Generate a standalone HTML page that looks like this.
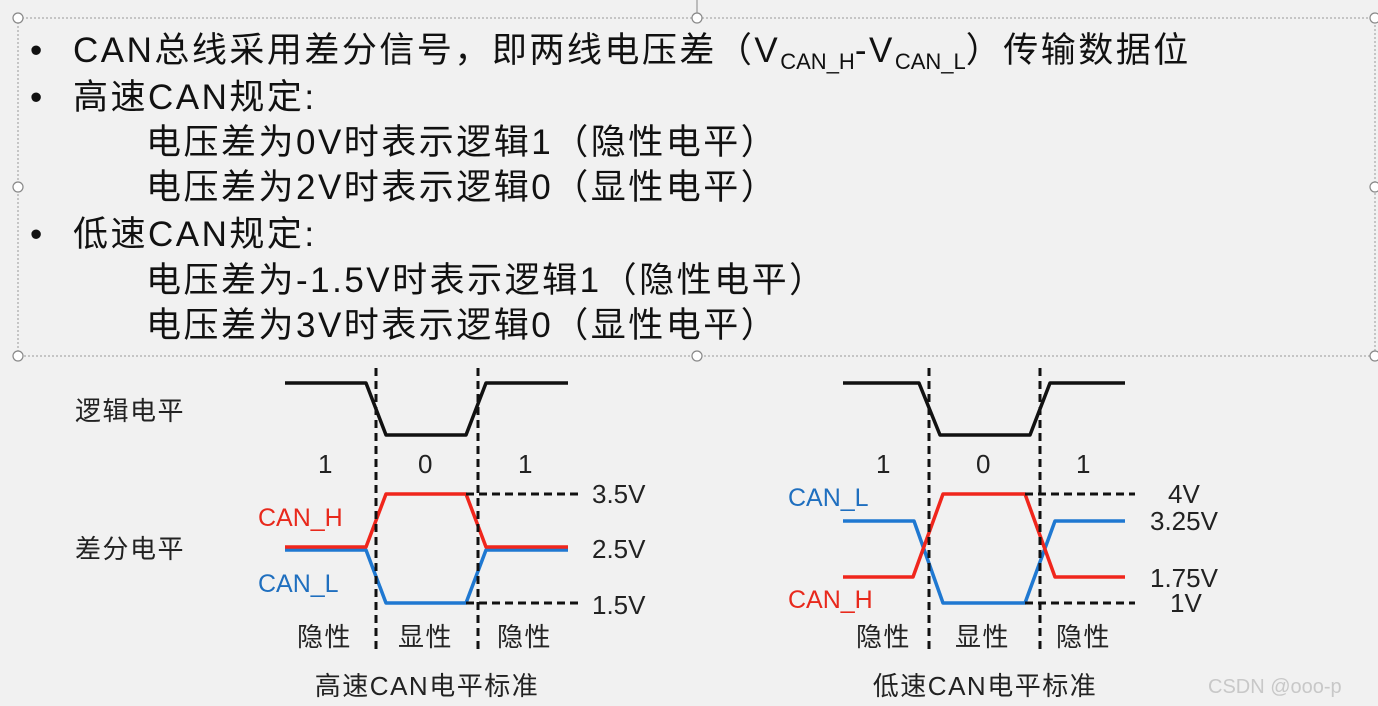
<!DOCTYPE html>
<html><head><meta charset="utf-8"><style>
body{margin:0;background:#f1f1f1;}
svg{display:block}
text{font-family:"Liberation Sans","Noto Sans CJK SC",sans-serif;}
</style></head><body>
<svg width="1378" height="706" viewBox="0 0 1378 706" xmlns="http://www.w3.org/2000/svg">
<rect width="1378" height="706" fill="#f1f1f1"/>
<rect x="18" y="18" width="1357" height="338" fill="none" stroke="#999" stroke-width="1" stroke-dasharray="2,2"/>
<g fill="#fff" stroke="#888" stroke-width="1.2">
<circle cx="18" cy="18" r="5"/><circle cx="697" cy="18" r="5"/><circle cx="1375" cy="18" r="5"/>
<circle cx="18" cy="187" r="5"/><circle cx="1375" cy="187" r="5"/>
<circle cx="18" cy="356" r="5"/><circle cx="697" cy="356" r="5"/><circle cx="1375" cy="356" r="5"/>
</g>
<line x1="697" y1="0" x2="697" y2="13" stroke="#888" stroke-width="1"/>
<g font-size="35" fill="#111" letter-spacing="2.5">
<text x="30" y="62">•</text>
<text x="73" y="62">CAN总线采用差分信号，即两线电压差（V<tspan font-size="22" dy="7" letter-spacing="0">CAN_H</tspan><tspan dy="-7">-V</tspan><tspan font-size="22" dy="7" letter-spacing="0">CAN_L</tspan><tspan dy="-7">）传输数据位</tspan></text>
<text x="30" y="109">•</text>
<text x="73" y="109">高速CAN规定:</text>
<text x="146" y="154">电压差为0V时表示逻辑1（隐性电平）</text>
<text x="146" y="199">电压差为2V时表示逻辑0（显性电平）</text>
<text x="30" y="246">•</text>
<text x="73" y="246">低速CAN规定:</text>
<text x="146" y="292">电压差为-1.5V时表示逻辑1（隐性电平）</text>
<text x="146" y="337">电压差为3V时表示逻辑0（显性电平）</text>
</g>
<g font-size="26" fill="#222" letter-spacing="1.5">
<text x="75" y="420">逻辑电平</text>
<text x="75" y="558">差分电平</text>
<text x="318" y="473">1</text><text x="418" y="473">0</text><text x="518" y="473">1</text>
<text x="876" y="473">1</text><text x="976" y="473">0</text><text x="1076" y="473">1</text>
<text x="297" y="646">隐性</text><text x="398" y="646">显性</text><text x="497" y="646">隐性</text>
<text x="856" y="646">隐性</text><text x="955" y="646">显性</text><text x="1056" y="646">隐性</text>
<text x="592" y="503" letter-spacing="0">3.5V</text><text x="592" y="558" letter-spacing="0">2.5V</text><text x="592" y="614" letter-spacing="0">1.5V</text>
<text x="1168" y="503" letter-spacing="0">4V</text><text x="1150" y="530" letter-spacing="0">3.25V</text><text x="1150" y="587" letter-spacing="0">1.75V</text><text x="1170" y="612" letter-spacing="0">1V</text>
<text x="427" y="695" text-anchor="middle">高速CAN电平标准</text>
<text x="985" y="695" text-anchor="middle">低速CAN电平标准</text>
</g>
<g font-size="25">
<text x="258" y="526" fill="#e8291c">CAN_H</text>
<text x="258" y="592" fill="#1f6fbf">CAN_L</text>
<text x="788" y="506" fill="#1f6fbf">CAN_L</text>
<text x="788" y="608" fill="#e8291c">CAN_H</text>
</g>
<text x="1208" y="693" font-size="20" fill="#c8c8c8">CSDN @ooo-p</text>
<g fill="none" stroke-width="3.5" stroke-linejoin="round">
<polyline points="285,383 366,383 386,435 466,435 486,383 568,383" stroke="#111"/>
<polyline points="285,550 366,550 386,603 466,603 486,550 568,550" stroke="#1f78d1"/>
<polyline points="285,547 366,547 386,494 466,494 486,547 568,547" stroke="#f0261c"/>
<polyline points="843,383 919,383 940,435 1030,435 1050,383 1125,383" stroke="#111"/>
<polyline points="843,521 914,521 943,603 1025,603 1055,521 1125,521" stroke="#1f78d1"/>
<polyline points="843,577 913,577 943,494 1025,494 1055,577 1125,577" stroke="#f0261c"/>
</g>
<g stroke="#111" stroke-width="3" stroke-dasharray="8,5" fill="none">
<line x1="376" y1="368" x2="376" y2="652"/><line x1="478" y1="368" x2="478" y2="652"/>
<line x1="929" y1="368" x2="929" y2="652"/><line x1="1040" y1="368" x2="1040" y2="652"/>
<line x1="466" y1="494" x2="578" y2="494"/><line x1="466" y1="603" x2="578" y2="603"/>
<line x1="1025" y1="494" x2="1135" y2="494"/><line x1="1025" y1="603" x2="1135" y2="603"/>
</g>
</svg>
</body></html>
